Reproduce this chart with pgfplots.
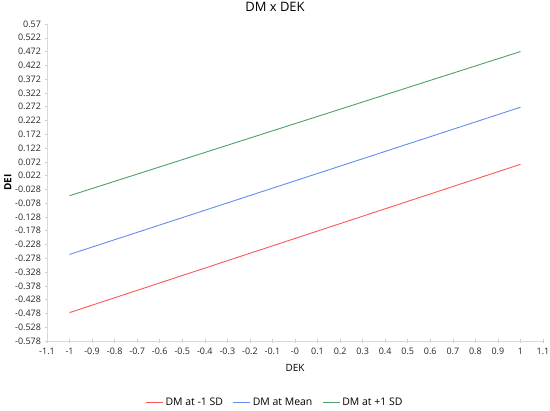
\documentclass[border=0pt]{standalone}
\usepackage{pgfplots}
\pgfplotsset{compat=1.18}
\usepackage{fontspec}
\setmainfont{Open Sans}
\definecolor{lred}{RGB}{255,85,85}
\definecolor{lblue}{RGB}{100,140,240}
\definecolor{lgreen}{RGB}{80,160,100}
\begin{document}
\begin{tikzpicture}
\begin{axis}[
  scale only axis,
  width=496bp, height=317bp,
  xmin=-1.1, xmax=1.1,
  ymin=-0.578, ymax=0.572,
  axis x line*=bottom, axis y line*=left,
  axis line style={draw=black!15},
  tick style={draw=black!20, line width=0.5pt},
  major tick length=3bp,
  tick align=center,
  xtick={-1.1,-1,-0.9,-0.8,-0.7,-0.6,-0.5,-0.4,-0.3,-0.2,-0.1,0,0.1,0.2,0.3,0.4,0.5,0.6,0.7,0.8,0.9,1,1.1},
  xticklabels={-1.1,-1,-0.9,-0.8,-0.7,-0.6,-0.5,-0.4,-0.3,-0.2,-0.1,-0,0.1,0.2,0.3,0.4,0.5,0.6,0.7,0.8,0.9,1,1.1},
  ytick={-0.578,-0.528,-0.478,-0.428,-0.378,-0.328,-0.278,-0.228,-0.178,-0.128,-0.078,-0.028,0.022,0.072,0.122,0.172,0.222,0.272,0.322,0.372,0.422,0.472,0.522,0.572},
  yticklabels={-0.578,-0.528,-0.478,-0.428,-0.378,-0.328,-0.278,-0.228,-0.178,-0.128,-0.078,-0.028,0.022,0.072,0.122,0.172,0.222,0.272,0.322,0.372,0.422,0.472,0.522,0.57},
  ticklabel style={font=\fontsize{9}{10}\selectfont, text=black!85},
  xticklabel style={yshift=-2bp},
  yticklabel style={xshift=-1bp},
  title={DM x DEK},
  title style={at={(0.5,1)}, anchor=center, yshift=11bp, xshift=-20bp, font=\fontsize{13}{15}\selectfont},
  xlabel={DEK},
  xlabel style={at={(0.5,0)}, anchor=center, yshift=-27bp, font=\fontsize{10}{12}\selectfont},
  ylabel={DEI},
  ylabel shift=-3bp,
  ylabel style={font=\fontsize{10}{12}\selectfont\bfseries},
  legend columns=3,
  legend style={at={(0.5,0)}, anchor=north, yshift=-53bp, xshift=-20bp, draw=none, font=\fontsize{10.5}{12}\selectfont,
    /tikz/every even column/.append style={column sep=8bp}},
]
\addplot[lred, line width=0.9pt] coordinates {(-1,-0.475) (1,0.063)};
\addlegendentry{DM at -1 SD}
\addplot[lblue, line width=0.9pt] coordinates {(-1,-0.264) (1,0.270)};
\addlegendentry{DM at Mean}
\addplot[lgreen, line width=0.9pt] coordinates {(-1,-0.051) (1,0.472)};
\addlegendentry{DM at +1 SD}
\coordinate (sw) at (rel axis cs:0,0);
\coordinate (ne) at (rel axis cs:1,1);
\end{axis}
\pgfresetboundingbox
\path ([shift={(-47bp,-70bp)}]sw) rectangle ([shift={(7bp,24bp)}]ne);
\end{tikzpicture}
\end{document}
